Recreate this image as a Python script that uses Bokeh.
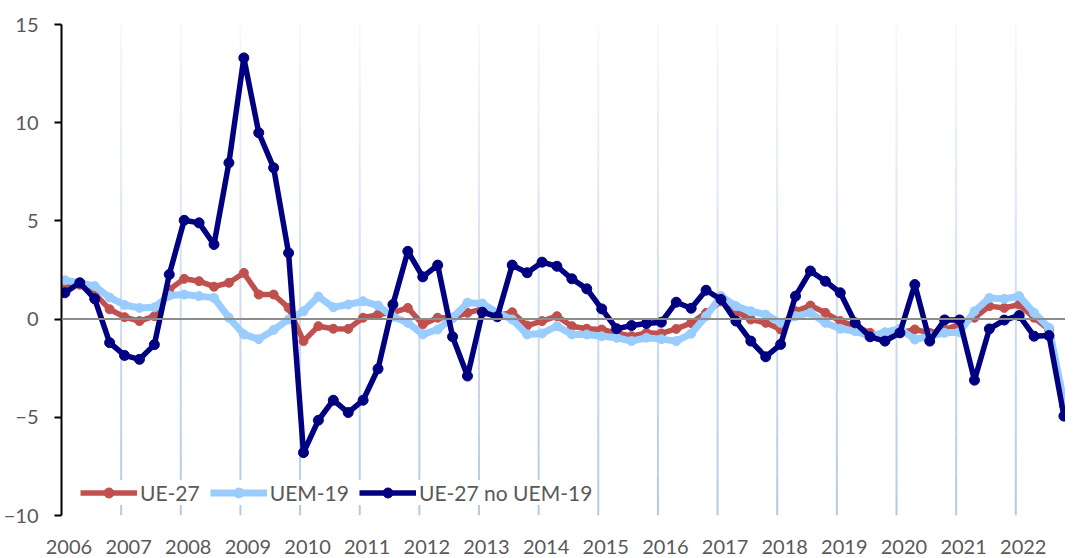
from bokeh.plotting import figure
from bokeh.models import Range1d, FixedTicker, Span, Legend, LegendItem
from bokeh.embed import file_html
from bokeh.resources import INLINE

start_year = 2006
years = list(range(2006, 2023))
year_labels = [str(y) for y in years]

ue27 = [1.7, 1.75, 1.3, 0.5, 0.1, -0.1, 0.15, 1.5, 2.05, 1.93, 1.65, 1.85, 2.35,
        1.25, 1.25, 0.57, -1.12, -0.36, -0.49, -0.5,
        0.07, 0.23, 0.33, 0.57, -0.27, 0.07, 0.07, 0.32, 0.52, 0.18,
        0.35, -0.33, -0.1, 0.15, -0.36, -0.49, -0.53, -0.7, -0.87, -0.7, -0.73, -0.5, -0.2,
        0.32, 0.9, 0.4, -0.02, -0.19, -0.53,
        0.4, 0.69, 0.32, -0.1, -0.36, -0.7, -0.87, -0.7, -0.53, -0.7, -0.53, -0.27, 0.07,
        0.66, 0.57, 0.74, 0.07, -0.53, -4.4]
uem19 = [1.98, 1.85, 1.68, 1.1, 0.72, 0.57, 0.6, 1.2, 1.25, 1.17, 1.08,
         0.07, -0.78, -1.02, -0.55, -0.02, 0.4, 1.15, 0.6, 0.74,
         0.91, 0.69, 0.12, -0.19, -0.78, -0.53, 0.07, 0.83, 0.79, 0.32,
         -0.02, -0.78, -0.73, -0.36, -0.78, -0.78, -0.87, -0.95, -1.12, -0.95, -1.02, -1.12, -0.74,
         0.15, 1.17, 0.66, 0.4, 0.23, -0.19,
         0.15, 0.32, -0.19, -0.49, -0.62, -0.87, -0.67, -0.49, -1.04, -0.87, -0.7, -0.67, 0.4,
         1.08, 1.03, 1.17, 0.32, -0.44, -4.2]
ue27_no_uem19 = [1.34, 1.85, 1.03, -1.2, -1.85, -2.05, -1.3, 2.27, 5.03, 4.9, 3.8, 7.96, 13.3, 9.49, 7.7, 3.37,
                 -6.8, -5.15, -4.13, -4.76, -4.13, -2.53, 0.74, 3.45, 2.15, 2.75, -0.9, -2.9, 0.35, 0.12,
                 2.75, 2.36, 2.9, 2.69, 2.05, 1.54, 0.52, -0.49, -0.33, -0.22, -0.16, 0.86, 0.55, 1.47, 1.0,
                 -0.1, -1.12, -1.92, -1.29, 1.17, 2.45, 1.93, 1.34, -0.19, -0.9, -1.12, -0.7, 1.76, -1.12,
                 -0.04, -0.04, -3.11, -0.5, -0.05, 0.18, -0.87, -0.84, -4.94]

series_names = ["UE-27", "UEM-19", "UE-27 no UEM-19"]
series_colors = ["#C0504D", "#99CCFF", "#000080"]

# x positions: quarterly points
x = [start_year + 0.057 + 0.25 * i for i in range(len(ue27))]

FONT = "Lato"
W, H = 1065, 557
left, top, bottom = 55, 24, 42
frame_w = W - left
x_end = start_year + frame_w / 60.0

p = figure(width=W, height=H, output_backend="svg", toolbar_location=None,
           x_range=Range1d(start_year, x_end), y_range=Range1d(-10, 15),
           min_border_left=left, min_border_right=0, min_border_top=top,
           min_border_bottom=bottom, background_fill_color="white",
           border_fill_color="white")
p.outline_line_color = None
p.xgrid.visible = False
p.ygrid.visible = False

# gradient vertical gridlines at year boundaries
grid_years = years[1:]
nb = 24
y_lo, y_hi = -10.0, 15.0
c_bot = (0xB4, 0xC8, 0xE4)
c_top = (0xF6, 0xF9, 0xFD)
for b in range(nb):
    t = (b + 0.5) / nb
    col = "#%02x%02x%02x" % tuple(int(round(c_bot[k] + (c_top[k] - c_bot[k]) * t)) for k in range(3))
    ya = y_lo + (y_hi - y_lo) * b / nb
    yb = y_lo + (y_hi - y_lo) * (b + 1) / nb
    p.segment(x0=grid_years, x1=grid_years, y0=[ya] * len(grid_years), y1=[yb] * len(grid_years),
              line_color=col, line_width=2)

p.add_layout(Span(location=0, dimension="width", line_color="#8c8c8c", line_width=2))

items = []
widths = [5.5, 7, 5.5]
sizes = [9, 9, 10]
for data, name, col, lw, sz in zip([ue27, uem19, ue27_no_uem19], series_names, series_colors, widths, sizes):
    r1 = p.line(x, data, line_color=col, line_width=lw, line_join="round")
    r2 = p.scatter(x, data, size=sz, fill_color=col, line_color=col)
    items.append(LegendItem(label=name, renderers=[r1, r2]))

legend = Legend(items=items, orientation="horizontal", location=(19, 10),
                background_fill_color="white", background_fill_alpha=1.0,
                border_line_color=None, padding=5, margin=0,
                glyph_width=57, glyph_height=25, label_standoff=3, spacing=10,
                label_text_font=FONT, label_text_font_size="21px", label_text_color="#595959")
p.add_layout(legend, "center")

# y axis
ya = p.yaxis[0]
ya.ticker = FixedTicker(ticks=[-10, -5, 0, 5, 10, 15])
ya.axis_line_color = "black"
ya.axis_line_width = 2
ya.major_tick_line_color = "black"
ya.major_tick_line_width = 2
ya.major_tick_in = 0
ya.major_tick_out = 7
ya.minor_tick_line_color = None
ya.major_label_standoff = 16
ya.major_label_text_font = FONT
ya.major_label_text_font_size = "20px"
ya.major_label_text_color = "#595959"

# x axis
xa = p.xaxis[0]
label_pos = [y + 0.125 for y in years]
xa.ticker = FixedTicker(ticks=label_pos)
xa.major_label_overrides = {pos: lab for pos, lab in zip(label_pos, year_labels)}
xa.axis_line_color = None
xa.major_tick_line_color = None
xa.minor_tick_line_color = None
xa.major_label_standoff = 18
xa.major_label_text_font = FONT
xa.major_label_text_font_size = "20px"
xa.major_label_text_color = "#595959"

open("out.html", "w").write(file_html(p, INLINE))
